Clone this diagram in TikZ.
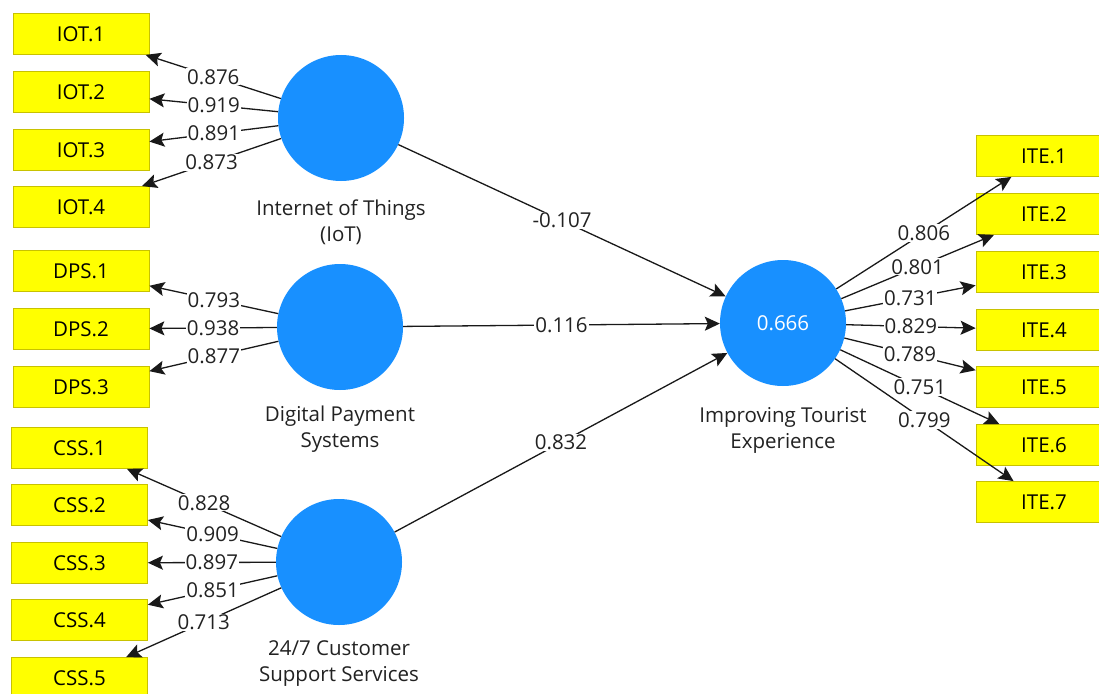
\documentclass[tikz,border=0pt]{standalone}
\usepackage{fontspec}
\setmainfont{Open Sans}
\usetikzlibrary{arrows.meta}
\definecolor{lvblue}{HTML}{1890FF}
\definecolor{boxyel}{HTML}{FFFF00}
\definecolor{boxedge}{HTML}{C8C200}
\definecolor{txt}{HTML}{222222}
\newcommand\dgfont{\fontsize{20.5}{26}\selectfont}
\begin{document}
\begin{tikzpicture}[x=1pt,y=-1pt,
  ind/.style={draw=boxedge, fill=boxyel, minimum width=136pt, minimum height=41pt, inner sep=0pt, font=\dgfont, text=black, line width=0.8pt},
  lv/.style={circle, fill=lvblue, minimum size=126pt, inner sep=0pt},
  load/.style={-{Stealth[length=15pt,width=14pt,inset=3pt]}, line width=1.3pt, draw=black!90},
  lab/.style={fill=white, inner sep=1pt, font=\dgfont, text=txt},
  lvlab/.style={font=\dgfont, align=center, text=txt}
]
\useasboundingbox (0,0) rectangle (1099,693);
\clip (0,0) rectangle (1099,693);
\fill[white] (0,0) rectangle (1099,693);

% latent variables
\node[lv] (iot) at (341,118) {};
\node[lv] (dps) at (340,327) {};
\node[lv] (css) at (339,562) {};
\node[lv, text=white, font=\dgfont] (ite) at (783,323) {0.666};

\node[lvlab] (liot) at (341,222) {Internet of Things\\(IoT)};
\node[lvlab] (ldps) at (340,429) {Digital Payment\\Systems};
\node[lvlab] (lcss) at (339,664) {24/7 Customer\\Support Services};
\node[lvlab] (lite) at (783,430) {Improving Tourist\\Experience};

% indicators
\node[ind] (iot1) at (81,34) {IOT.1};
\node[ind] (iot2) at (81,92) {IOT.2};
\node[ind] (iot3) at (81,150) {IOT.3};
\node[ind] (iot4) at (81,207) {IOT.4};

\node[ind] (dps1) at (81,271) {DPS.1};
\node[ind] (dps2) at (81,329) {DPS.2};
\node[ind] (dps3) at (81,387) {DPS.3};

\node[ind] (css1) at (79.5,448) {CSS.1};
\node[ind] (css2) at (79.5,505) {CSS.2};
\node[ind] (css3) at (79.5,563) {CSS.3};
\node[ind] (css4) at (79.5,620) {CSS.4};
\node[ind] (css5) at (79.5,678) {CSS.5};

\node[ind] (ite1) at (1044,156) {ITE.1};
\node[ind] (ite2) at (1044,214) {ITE.2};
\node[ind] (ite3) at (1044,272) {ITE.3};
\node[ind] (ite4) at (1044,330) {ITE.4};
\node[ind] (ite5) at (1044,387) {ITE.5};
\node[ind] (ite6) at (1044,445) {ITE.6};
\node[ind] (ite7) at (1044,502) {ITE.7};

% outer loadings
\draw[load] (iot) -- node[lab]{0.876} (iot1);
\draw[load] (iot) -- node[lab]{0.919} (iot2);
\draw[load] (iot) -- node[lab]{0.891} (iot3);
\draw[load] (iot) -- node[lab]{0.873} (iot4);

\draw[load] (dps) -- node[lab]{0.793} (dps1);
\draw[load] (dps) -- node[lab]{0.938} (dps2);
\draw[load] (dps) -- node[lab]{0.877} (dps3);

\draw[load] (css) -- node[lab]{0.828} (css1);
\draw[load] (css) -- node[lab]{0.909} (css2);
\draw[load] (css) -- node[lab]{0.897} (css3);
\draw[load] (css) -- node[lab]{0.851} (css4);
\draw[load] (css) -- node[lab]{0.713} (css5);

\draw[load] (ite) -- node[lab]{0.806} (ite1);
\draw[load] (ite) -- node[lab]{0.801} (ite2);
\draw[load] (ite) -- node[lab]{0.731} (ite3);
\draw[load] (ite) -- node[lab]{0.829} (ite4);
\draw[load] (ite) -- node[lab]{0.789} (ite5);
\draw[load] (ite) -- node[lab]{0.751} (ite6);
\draw[load] (ite) -- node[lab]{0.799} (ite7);

% structural paths
\draw[load] (iot) -- node[lab]{-0.107} (ite);
\draw[load] (dps) -- node[lab]{0.116} (ite);
\draw[load] (css) -- node[lab]{0.832} (ite);
\end{tikzpicture}
\end{document}
